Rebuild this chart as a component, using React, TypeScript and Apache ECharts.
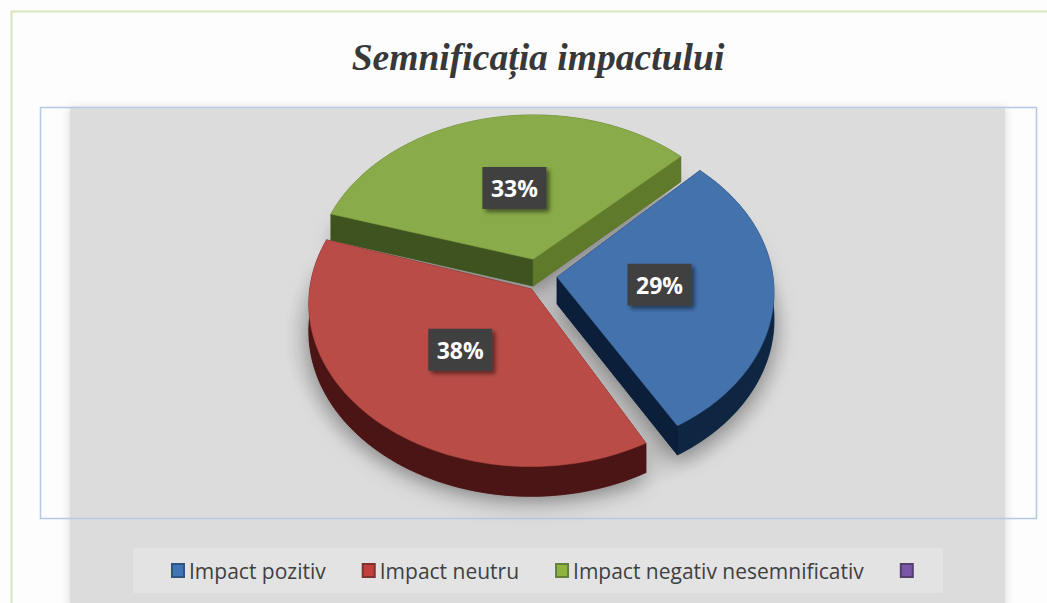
import React, { useEffect, useRef } from "react";
import * as echarts from "echarts";

const categories = ["Impact pozitiv", "Impact neutru", "Impact negativ nesemnificativ"];
const emptyCategory = "\u00a0";
const sliceValues = [29, 38, 33];
const sliceLabels = ["29%", "38%", "33%"];
const topColors = ["#4472ad", "#b94c47", "#8aab49"];
const arcColors = ["#0f2642", "#4c1515", "#4c6323"];
const startFaceColors = ["#0f2642", "#4c1515", "#3f5321"];
const endFaceColors = ["#0b1f3a", "#4c1515", "#5f7a2b"];
const legendInner = ["#3f74b5", "#c2403c", "#8fb33f", "#7a55a8"];
const legendBorder = ["#2f5482", "#7e3331", "#66803a", "#53406f"];
const explodeX = [0.088, -0.03, -0.023];
const explodeY = [0.0, 0.075, -0.112];
const stretchX = [1, 1.02, 1.015];
const angleNudge = [0, 2, 1];
const labelNudgeX = [-1, -2, 4];
const labelNudgeY = [-2, -1, -1];
const paintOrder = [2, 3, 1];

const START_DEG = 45;
const CX = 538;
const CY = 277;
const R = 216;
const A = 0.74;
const K = 0.087;
const DEPTH = 27;

function project(X: number, Y: number, h: number): number[] {
  const w = 1 / (1 - K * Y);
  return [CX + R * X * w, CY + R * A * Y * w + DEPTH * w * h];
}

function makeRenderItem(i: number) {
  return (_params: any, api: any) => {
    const value = api.value(0);
    const total = sliceValues.reduce((a, b) => a + b, 0);
    let before = 0;
    for (let j = 0; j < i; j++) before += sliceValues[j];
    const a0 = START_DEG + angleNudge[i] + (before / total) * 360;
    const a1 = a0 + (value / total) * 360;
    const ex = explodeX[i];
    const ey = explodeY[i];
    const arc = (h: number) => {
      const pts: number[][] = [];
      for (let t = 0; t <= 72; t++) {
        const th = ((a0 + ((a1 - a0) * t) / 72) * Math.PI) / 180;
        pts.push(project(ex + stretchX[i] * Math.sin(th), ey - Math.cos(th), h));
      }
      return pts;
    };
    const topArc = arc(0);
    const botArc = arc(1);
    const apexT = project(ex, ey, 0);
    const apexB = project(ex, ey, 1);
    const poly = (points: number[][], fill: string, z2: number, extra: any = {}) => ({
      type: "polygon",
      shape: { points },
      style: { fill, stroke: fill, lineWidth: 0.5, ...extra },
      z2,
      silent: true,
    });
    const mid = (((a0 + a1) / 2) * Math.PI) / 180;
    const lp0 = project(ex + 0.48 * Math.sin(mid), ey - 0.48 * Math.cos(mid), 0);
    const lp = [lp0[0] + labelNudgeX[i], lp0[1] + labelNudgeY[i]];
    const children: any[] = [
      poly([apexB, ...botArc], arcColors[i], 0, {
        shadowBlur: 22,
        shadowColor: "rgba(0,0,0,0.36)",
        shadowOffsetY: 6,
      }),
      poly([...topArc, ...botArc.slice().reverse()], arcColors[i], 1),
      poly([apexT, topArc[0], botArc[0], apexB], startFaceColors[i], 2),
      poly([apexT, topArc[72], botArc[72], apexB], endFaceColors[i], 3),
      poly([apexT, ...topArc], topColors[i], 4),
      {
        type: "rect",
        shape: { x: lp[0] - 32, y: lp[1] - 21, width: 64, height: 42 },
        style: {
          fill: "#404040",
          shadowBlur: 4,
          shadowOffsetX: 3,
          shadowOffsetY: 3,
          shadowColor: "rgba(0,0,0,0.5)",
        },
        z2: 5,
        silent: true,
      },
      {
        type: "text",
        style: {
          text: sliceLabels[i],
          x: lp[0],
          y: lp[1],
          fill: "#ffffff",
          font: "bold 23px 'Open Sans'",
          align: "center",
          verticalAlign: "middle",
        },
        z2: 6,
        silent: true,
      },
    ];
    return { type: "group", children };
  };
}

export default function App() {
  const ref = useRef<HTMLDivElement>(null);
  useEffect(() => {
    document.body.style.margin = "0";
    const chart = echarts.init(ref.current!, undefined, { renderer: "svg" });
    const series: any[] = categories.map((name, i) => ({
      type: "custom",
      name,
      coordinateSystem: "none",
      z: 10 + paintOrder[i],
      itemStyle: { color: legendInner[i] },
      data: [[sliceValues[i]]],
      renderItem: makeRenderItem(i),
    }));
    series.push({
      type: "custom",
      name: emptyCategory,
      coordinateSystem: "none",
      z: 10,
      itemStyle: { color: legendInner[3] },
      data: [],
      renderItem: () => null,
    });
    chart.setOption({
      animation: false,
      backgroundColor: "#fdfdfd",
      title: {
        text: "Semnificația impactului",
        left: 533,
        top: 33,
        textAlign: "center",
        textStyle: {
          fontFamily: "'Liberation Serif'",
          fontStyle: "italic",
          fontWeight: "bold",
          fontSize: 37.6,
          color: "#383838",
        },
      },
      legend: {
        left: 166,
        top: 555,
        selectedMode: false,
        itemWidth: 12,
        itemHeight: 13,
        itemGap: 36,
        icon: "rect",
        textStyle: {
          fontFamily: "'Open Sans'",
          fontSize: 21,
          color: "#404040",
        },
        data: [...categories, emptyCategory].map((name, i) => ({
          name,
          itemStyle: { color: legendInner[i], borderColor: legendBorder[i], borderWidth: 2 },
        })),
      },
      graphic: [
        {
          type: "polyline",
          z: 0,
          silent: true,
          shape: { points: [[11.5, 603], [11.5, 11.5], [1047, 11.5]] },
          style: { stroke: "#d6e6b8", lineWidth: 2, fill: "none" },
        },
        {
          type: "rect",
          z: 0,
          silent: true,
          shape: { x: 70, y: 108, width: 935, height: 500 },
          style: { fill: "#dcdcdc", shadowBlur: 10, shadowColor: "rgba(0,0,0,0.15)" },
        },
        {
          type: "ellipse",
          z: 1,
          silent: true,
          shape: { cx: 538, cy: 337, rx: 254, ry: 170 },
          style: {
            fill: {
              type: "radial",
              x: 0.5,
              y: 0.5,
              r: 0.5,
              colorStops: [
                { offset: 0, color: "rgba(0,0,0,0.12)" },
                { offset: 0.82, color: "rgba(0,0,0,0.12)" },
                { offset: 1, color: "rgba(0,0,0,0)" },
              ],
            },
          },
        },
        {
          type: "rect",
          z: 2,
          silent: true,
          shape: { x: 40.5, y: 107.5, width: 996, height: 411 },
          style: { fill: "none", stroke: "#b5c8e6", lineWidth: 1.5 },
        },
        {
          type: "rect",
          z: 2,
          silent: true,
          shape: { x: 133, y: 548, width: 810, height: 45 },
          style: { fill: "#e3e3e3" },
        },
      ],
      series,
    });
    return () => chart.dispose();
  }, []);
  return (
    <div
      ref={ref}
      style={{ position: "fixed", left: 0, top: 0, width: 1047, height: 603 }}
    />
  );
}
